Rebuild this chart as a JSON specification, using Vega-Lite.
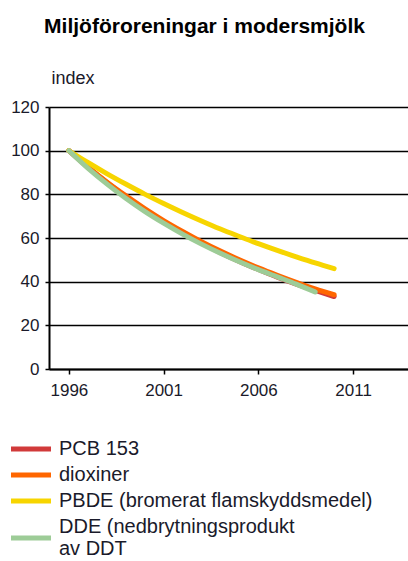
{
  "$schema": "https://vega.github.io/schema/vega-lite/v6.json",
  "autosize": {"type": "none"},
  "width": 359,
  "height": 262,
  "padding": {"left": 49, "top": 107, "right": 0, "bottom": 192},
  "background": "white",
  "title": {
    "text": "Miljöföroreningar i modersmjölk",
    "font": "Liberation Sans",
    "fontSize": 21,
    "fontWeight": "bold",
    "color": "#000000",
    "anchor": "middle",
    "frame": "group",
    "dx": -24,
    "offset": 32
  },
  "data": {
    "values": [
      {"year": 1996, "series": "PCB 153", "value": 100},
      {"year": 1997, "series": "PCB 153", "value": 92.4},
      {"year": 1998, "series": "PCB 153", "value": 85.4},
      {"year": 1999, "series": "PCB 153", "value": 79},
      {"year": 2000, "series": "PCB 153", "value": 73},
      {"year": 2001, "series": "PCB 153", "value": 67.5},
      {"year": 2002, "series": "PCB 153", "value": 62.4},
      {"year": 2003, "series": "PCB 153", "value": 57.7},
      {"year": 2004, "series": "PCB 153", "value": 53.3},
      {"year": 2005, "series": "PCB 153", "value": 49.3},
      {"year": 2006, "series": "PCB 153", "value": 45.6},
      {"year": 2007, "series": "PCB 153", "value": 42.1},
      {"year": 2008, "series": "PCB 153", "value": 38.9},
      {"year": 2009, "series": "PCB 153", "value": 36},
      {"year": 2010, "series": "PCB 153", "value": 33.2},
      {"year": 1996, "series": "dioxiner", "value": 100},
      {"year": 1997, "series": "dioxiner", "value": 92.6},
      {"year": 1998, "series": "dioxiner", "value": 85.7},
      {"year": 1999, "series": "dioxiner", "value": 79.4},
      {"year": 2000, "series": "dioxiner", "value": 73.5},
      {"year": 2001, "series": "dioxiner", "value": 68},
      {"year": 2002, "series": "dioxiner", "value": 63},
      {"year": 2003, "series": "dioxiner", "value": 58.3},
      {"year": 2004, "series": "dioxiner", "value": 54},
      {"year": 2005, "series": "dioxiner", "value": 50},
      {"year": 2006, "series": "dioxiner", "value": 46.3},
      {"year": 2007, "series": "dioxiner", "value": 42.9},
      {"year": 2008, "series": "dioxiner", "value": 39.7},
      {"year": 2009, "series": "dioxiner", "value": 36.7},
      {"year": 2010, "series": "dioxiner", "value": 34},
      {"year": 1996, "series": "PBDE (bromerat flamskyddsmedel)", "value": 100},
      {"year": 1997, "series": "PBDE (bromerat flamskyddsmedel)", "value": 94.6},
      {"year": 1998, "series": "PBDE (bromerat flamskyddsmedel)", "value": 89.5},
      {"year": 1999, "series": "PBDE (bromerat flamskyddsmedel)", "value": 84.7},
      {"year": 2000, "series": "PBDE (bromerat flamskyddsmedel)", "value": 80.1},
      {"year": 2001, "series": "PBDE (bromerat flamskyddsmedel)", "value": 75.8},
      {"year": 2002, "series": "PBDE (bromerat flamskyddsmedel)", "value": 71.7},
      {"year": 2003, "series": "PBDE (bromerat flamskyddsmedel)", "value": 67.8},
      {"year": 2004, "series": "PBDE (bromerat flamskyddsmedel)", "value": 64.1},
      {"year": 2005, "series": "PBDE (bromerat flamskyddsmedel)", "value": 60.7},
      {"year": 2006, "series": "PBDE (bromerat flamskyddsmedel)", "value": 57.4},
      {"year": 2007, "series": "PBDE (bromerat flamskyddsmedel)", "value": 54.3},
      {"year": 2008, "series": "PBDE (bromerat flamskyddsmedel)", "value": 51.4},
      {"year": 2009, "series": "PBDE (bromerat flamskyddsmedel)", "value": 48.6},
      {"year": 2010, "series": "PBDE (bromerat flamskyddsmedel)", "value": 46},
      {"year": 1996, "series": "DDE (nedbrytningsprodukt av DDT", "value": 100},
      {"year": 1997, "series": "DDE (nedbrytningsprodukt av DDT", "value": 92},
      {"year": 1998, "series": "DDE (nedbrytningsprodukt av DDT", "value": 84.8},
      {"year": 1999, "series": "DDE (nedbrytningsprodukt av DDT", "value": 78.2},
      {"year": 2000, "series": "DDE (nedbrytningsprodukt av DDT", "value": 72.2},
      {"year": 2001, "series": "DDE (nedbrytningsprodukt av DDT", "value": 66.8},
      {"year": 2002, "series": "DDE (nedbrytningsprodukt av DDT", "value": 61.8},
      {"year": 2003, "series": "DDE (nedbrytningsprodukt av DDT", "value": 57.2},
      {"year": 2004, "series": "DDE (nedbrytningsprodukt av DDT", "value": 53},
      {"year": 2005, "series": "DDE (nedbrytningsprodukt av DDT", "value": 49.1},
      {"year": 2006, "series": "DDE (nedbrytningsprodukt av DDT", "value": 45.5},
      {"year": 2007, "series": "DDE (nedbrytningsprodukt av DDT", "value": 42.2},
      {"year": 2008, "series": "DDE (nedbrytningsprodukt av DDT", "value": 38.9},
      {"year": 2009, "series": "DDE (nedbrytningsprodukt av DDT", "value": 35.3}
    ]
  },
  "mark": {"type": "line", "strokeWidth": 5, "interpolate": "monotone", "strokeCap": "round"},
  "encoding": {
    "x": {
      "field": "year",
      "type": "quantitative",
      "scale": {"domain": [1994.95, 2013.9], "nice": false, "zero": false},
      "axis": {
        "values": [1996, 2001, 2006, 2011],
        "format": "d",
        "title": null,
        "grid": false,
        "domainColor": "#000000",
        "domainWidth": 2,
        "tickColor": "#000000",
        "tickWidth": 1.5,
        "tickSize": 5,
        "labelFont": "Liberation Sans",
        "labelFontSize": 17,
        "labelColor": "#1a1a2a",
        "labelPadding": 8
      }
    },
    "y": {
      "field": "value",
      "type": "quantitative",
      "scale": {"domain": [0, 120], "nice": false},
      "axis": {
        "values": [0, 20, 40, 60, 80, 100, 120],
        "title": "index",
        "titleAngle": 0,
        "titleAlign": "left",
        "titleBaseline": "alphabetic",
        "titleX": 2,
        "titleY": -24,
        "titleFont": "Liberation Sans",
        "titleFontSize": 18,
        "titleFontWeight": "normal",
        "titleColor": "#1a1a2a",
        "grid": true,
        "gridColor": "#000000",
        "gridWidth": 1.5,
        "gridOpacity": 1,
        "domainColor": "#000000",
        "domainWidth": 2,
        "tickColor": "#000000",
        "tickWidth": 1.5,
        "tickSize": 4,
        "labelFont": "Liberation Sans",
        "labelFontSize": 17,
        "labelColor": "#1a1a2a",
        "labelPadding": 6
      }
    },
    "color": {
      "field": "series",
      "type": "nominal",
      "sort": ["PCB 153", "dioxiner", "PBDE (bromerat flamskyddsmedel)", "DDE (nedbrytningsprodukt av DDT"],
      "scale": {
        "domain": ["PCB 153", "dioxiner", "PBDE (bromerat flamskyddsmedel)", "DDE (nedbrytningsprodukt av DDT"],
        "range": ["#d13a3a", "#ff6600", "#f7d500", "#9dcc97"]
      },
      "legend": {
        "orient": "none",
        "legendX": -28,
        "legendY": 332,
        "title": null,
        "symbolType": "M-20,0H20",
        "symbolSize": 4,
        "symbolStrokeWidth": 5,
        "labelFont": "Liberation Sans",
        "labelFontSize": 20,
        "labelColor": "#1a1a2a",
        "labelLimit": 400,
        "labelOffset": 18,
        "labelLineHeight": 20,
        "rowPadding": 6,
        "labelExpr": "datum.label == 'DDE (nedbrytningsprodukt av DDT' ? ['DDE (nedbrytningsprodukt', 'av DDT'] : datum.label",
        "encode": {
          "symbols": {
            "update": {
              "shape": {"signal": "datum.value == 'DDE (nedbrytningsprodukt av DDT' ? 'M-20,11H20' : 'M-20,0H20'"}
            }
          }
        }
      }
    },
    "order": {"field": "year", "type": "quantitative"}
  },
  "config": {
    "view": {"stroke": null}
  }
}
